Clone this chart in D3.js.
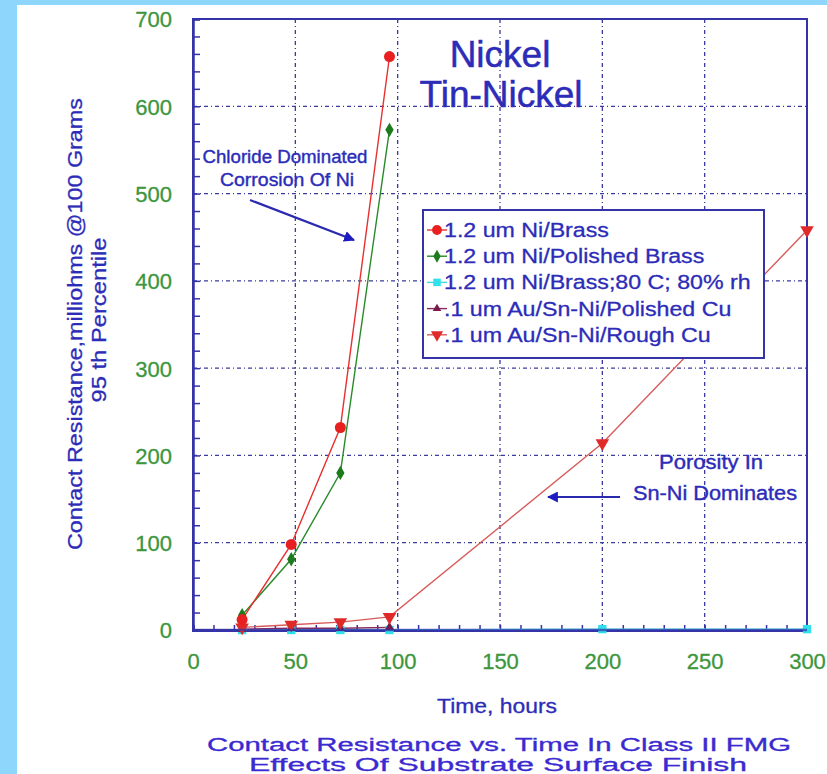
<!DOCTYPE html>
<html><head><meta charset="utf-8">
<script src="https://cdn.jsdelivr.net/npm/d3@7/dist/d3.min.js"></script>
<style>
html,body{margin:0;padding:0;background:#8ed6fc;}
svg{display:block;}
text{font-family:"Liberation Sans",Arial,Helvetica,sans-serif;}
</style></head>
<body>
<svg id="chart" width="827" height="774"></svg>
<script>
// ---- data ----
const xTicks = [0, 50, 100, 150, 200, 250, 300];
const yTicks = [0, 100, 200, 300, 400, 500, 600, 700];
const seriesNames = [
  "1.2 um Ni/Brass",
  "1.2 um Ni/Polished Brass",
  "1.2 um Ni/Brass;80 C; 80% rh",
  ".1 um Au/Sn-Ni/Polished Cu",
  ".1 um Au/Sn-Ni/Rough Cu"
];
const niBrassX = [24, 48, 72, 96];
const niBrassY = [12, 98, 232, 657];
const niPolishedX = [24, 48, 72, 96];
const niPolishedY = [17, 81, 180, 573];
const niHumidX = [24, 48, 72, 96, 200, 300];
const niHumidY = [0, 0, 0, 0, 1, 1];
const auPolishedX = [24, 48, 72, 96];
const auPolishedY = [1, 2, 2, 3];
const auRoughX = [24, 48, 72, 96, 200, 300];
const auRoughY = [3, 6, 9, 15, 214, 458];

const svg = d3.select("#chart");
const W = 827, H = 774;
svg.append("rect").attr("x", 17).attr("y", 5).attr("width", W - 17).attr("height", H - 5).attr("fill", "#ffffff");

const axisCol = "#3434a8";
const gridCol = "#3a3aa0";
const textBlue = "#2c2cb8";
const tickGreen = "#3c963c";

const x = d3.scaleLinear().domain([0, 300]).range([193, 807]);
const y = d3.scaleLinear().domain([0, 700]).range([630, 19]);

const defs = svg.append("defs");
defs.append("clipPath").attr("id", "clip").append("rect")
  .attr("x", 193).attr("y", 19).attr("width", 614).attr("height", 611);
defs.append("marker").attr("id", "arrow").attr("viewBox", "0 0 10 10")
  .attr("refX", 9).attr("refY", 5).attr("markerWidth", 5).attr("markerHeight", 5)
  .attr("markerUnits", "strokeWidth").attr("orient", "auto")
  .append("path").attr("d", "M0,0 L10,5 L0,10 Z").attr("fill", "#1c1cc0");

// grid
const grid = svg.append("g");
grid.selectAll("line.gx").data(xTicks.filter(d => d > 0 && d < 300)).join("line")
  .attr("x1", d => x(d)).attr("x2", d => x(d)).attr("y1", y(700)).attr("y2", y(0))
  .attr("stroke", gridCol).attr("stroke-width", 1.3).attr("stroke-dasharray", "4,3,1,3");
grid.selectAll("line.gy").data(yTicks.filter(d => d > 0 && d < 700)).join("line")
  .attr("y1", d => y(d)).attr("y2", d => y(d)).attr("x1", x(0)).attr("x2", x(300))
  .attr("stroke", gridCol).attr("stroke-width", 1.3).attr("stroke-dasharray", "4,3,1,3");

// frame
svg.append("rect").attr("x", x(0)).attr("y", y(700)).attr("width", x(300) - x(0)).attr("height", y(0) - y(700))
  .attr("fill", "none").attr("stroke", axisCol).attr("stroke-width", 2);

// axes (ticks inward)
const yAxis = d3.axisRight(y).tickValues(d3.range(0, 701, 20)).tickSize(7).tickFormat("");
const gy = svg.append("g").attr("transform", `translate(${x(0)},0)`).call(yAxis);
gy.select(".domain").attr("stroke", axisCol).attr("stroke-width", 2.5);
gy.selectAll(".tick line").attr("stroke", axisCol).attr("stroke-width", 1.5);

const xAxis = d3.axisTop(x).tickValues(d3.range(0, 301, 10)).tickSize(5).tickFormat("");
const gx = svg.append("g").attr("transform", `translate(0,${y(0)})`).call(xAxis);
gx.select(".domain").attr("stroke", axisCol).attr("stroke-width", 3);
gx.selectAll(".tick line").attr("stroke", axisCol).attr("stroke-width", 1.5);

// tick labels
const gyl = svg.append("g").attr("transform", `translate(172,0)`)
  .call(d3.axisLeft(y).tickValues(yTicks).tickSize(0).tickPadding(0));
gyl.select(".domain").remove();
gyl.selectAll("text").attr("fill", tickGreen).attr("font-size", 22)
  .attr("font-family", "'Liberation Sans',Arial,sans-serif").attr("dy", "0.36em")
  .attr("stroke", tickGreen).attr("stroke-width", 0.3);

const gxl = svg.append("g").attr("transform", `translate(0,669)`)
  .call(d3.axisTop(x).tickValues(xTicks).tickSize(0).tickPadding(0));
gxl.select(".domain").remove();
gxl.selectAll("text").attr("fill", tickGreen).attr("font-size", 22)
  .attr("font-family", "'Liberation Sans',Arial,sans-serif").attr("dy", "0")
  .attr("stroke", tickGreen).attr("stroke-width", 0.3);

// series
const series = [
  {xs: niBrassX, ys: niBrassY, line: "#e83030", fill: "#e82020", sym: d3.symbolCircle, size: 95, rot: 0},
  {xs: niPolishedX, ys: niPolishedY, line: "#2a8a2a", fill: "#1d7a1d", sym: d3.symbolDiamond, size: 60, rot: 0},
  {xs: niHumidX, ys: niHumidY, line: "#40d8e8", fill: "#30e0ea", sym: d3.symbolSquare, size: 70, rot: 0},
  {xs: auPolishedX, ys: auPolishedY, line: "#8a2a5a", fill: "#7a1a4a", sym: d3.symbolTriangle, size: 40, rot: 0},
  {xs: auRoughX, ys: auRoughY, line: "#d85a5a", fill: "#e02a2a", sym: d3.symbolTriangle, size: 80, rot: 180}
];
const lineGen = d3.line().x(d => x(d[0])).y(d => y(d[1]));
const plot = svg.append("g").attr("clip-path", "url(#clip)");
const order = [2, 3, 4, 1, 0];
order.forEach(i => {
  const s = series[i];
  const pts = s.xs.map((v, j) => [v, s.ys[j]]);
  plot.append("path").datum(pts).attr("d", lineGen).attr("fill", "none")
    .attr("stroke", s.line).attr("stroke-width", 1.4);
});
order.forEach(i => {
  const s = series[i];
  const pts = s.xs.map((v, j) => [v, s.ys[j]]);
  svg.append("g").selectAll("path").data(pts).join("path")
    .attr("d", d3.symbol().type(s.sym).size(s.size))
    .attr("transform", d => `translate(${x(d[0])},${y(d[1])}) rotate(${s.rot})`)
    .attr("fill", s.fill);
});
svg.append("line").attr("x1", x(0)).attr("x2", x(300)).attr("y1", y(0)).attr("y2", y(0))
  .attr("stroke", axisCol).attr("stroke-width", 2.5).attr("opacity", 0.7);

// legend
const lg = svg.append("g");
lg.append("rect").attr("x", 423).attr("y", 210).attr("width", 341).attr("height", 148)
  .attr("fill", "#ffffff").attr("stroke", axisCol).attr("stroke-width", 2);
seriesNames.forEach((name, i) => {
  const s = series[i];
  const cy = 230 + i * 26.2;
  lg.append("line").attr("x1", 427).attr("x2", 447).attr("y1", cy).attr("y2", cy)
    .attr("stroke", s.line).attr("stroke-width", 1.4);
  lg.append("path").attr("d", d3.symbol().type(s.sym).size(s.size * 0.8))
    .attr("transform", `translate(437,${cy}) rotate(${s.rot})`).attr("fill", s.fill);
  lg.append("text").attr("transform", `translate(444,${cy + 7}) scale(1.16,1)`)
    .attr("font-size", 20).attr("fill", textBlue)
    .attr("stroke", textBlue).attr("stroke-width", 0.3).text(name);
});

// title
svg.append("text").attr("x", 500).attr("y", 67).attr("text-anchor", "middle")
  .attr("font-size", 37).attr("fill", textBlue).attr("stroke", textBlue).attr("stroke-width", 0.5).text("Nickel");
svg.append("text").attr("x", 501).attr("y", 107).attr("text-anchor", "middle")
  .attr("font-size", 37).attr("fill", textBlue).attr("stroke", textBlue).attr("stroke-width", 0.5).text("Tin-Nickel");

// annotations
function note(xp, yp, size, len, str) {
  svg.append("text").attr("x", xp).attr("y", yp).attr("text-anchor", "middle")
    .attr("font-size", size).attr("fill", textBlue).attr("stroke", textBlue).attr("stroke-width", 0.4)
    .attr("textLength", len).attr("lengthAdjust", "spacingAndGlyphs").text(str);
}
note(285, 163, 18, 165, "Chloride Dominated");
note(287, 186, 18, 134, "Corrosion Of Ni");
svg.append("line").attr("x1", 250).attr("y1", 200).attr("x2", 354).attr("y2", 240)
  .attr("stroke", "#2a2ab0").attr("stroke-width", 2.2).attr("marker-end", "url(#arrow)");

note(711, 469, 20, 104, "Porosity In");
note(715, 500, 20, 164, "Sn-Ni Dominates");
svg.append("line").attr("x1", 620).attr("y1", 497).attr("x2", 548).attr("y2", 497)
  .attr("stroke", "#2a2ab0").attr("stroke-width", 2.2).attr("marker-end", "url(#arrow)");

// y axis title
const yt = svg.append("g").attr("transform", "translate(0,324) rotate(-90)");
yt.append("text").attr("x", 0).attr("y", 82).attr("text-anchor", "middle")
  .attr("font-size", 20).attr("fill", textBlue).attr("stroke", textBlue).attr("stroke-width", 0.3)
  .attr("textLength", 452).attr("lengthAdjust", "spacingAndGlyphs")
  .text("Contact Resistance,milliohms @100 Grams");
yt.append("text").attr("x", 4).attr("y", 106).attr("text-anchor", "middle")
  .attr("font-size", 20).attr("fill", textBlue).attr("stroke", textBlue).attr("stroke-width", 0.3)
  .attr("textLength", 165).attr("lengthAdjust", "spacingAndGlyphs")
  .text("95 th Percentile");

// x axis title + caption
svg.append("text").attr("x", 497).attr("y", 713).attr("text-anchor", "middle")
  .attr("font-size", 20).attr("fill", textBlue).attr("stroke", textBlue).attr("stroke-width", 0.3)
  .attr("textLength", 120).attr("lengthAdjust", "spacingAndGlyphs")
  .text("Time, hours");
svg.append("text").attr("x", 499).attr("y", 751).attr("text-anchor", "middle")
  .attr("font-size", 18).attr("fill", "#3a2ad0").attr("stroke", "#3a2ad0").attr("stroke-width", 0.3)
  .attr("textLength", 584).attr("lengthAdjust", "spacingAndGlyphs")
  .text("Contact Resistance vs. Time In Class II FMG");
svg.append("text").attr("x", 498).attr("y", 771).attr("text-anchor", "middle")
  .attr("font-size", 18).attr("fill", "#3a2ad0").attr("stroke", "#3a2ad0").attr("stroke-width", 0.3)
  .attr("textLength", 498).attr("lengthAdjust", "spacingAndGlyphs")
  .text("Effects Of Substrate Surface Finish");
</script>
</body></html>
